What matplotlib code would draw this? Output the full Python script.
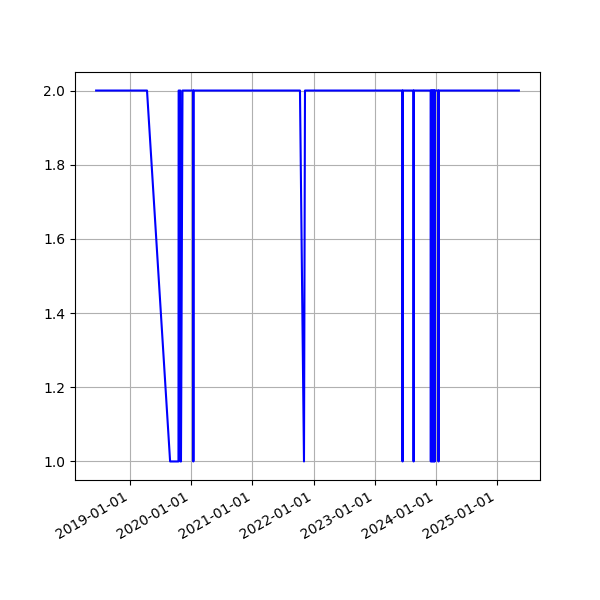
import matplotlib
matplotlib.use("Agg")
import matplotlib.pyplot as plt
import matplotlib.dates as mdates
import pandas as pd

# dates and values
dates = [
    "2018-06-12", "2019-04-12", "2019-08-28", "2019-10-17", "2019-10-18",
    "2019-10-28", "2019-10-29", "2019-11-01", "2019-11-10",
    "2020-01-13", "2020-01-14", "2020-01-15",
    "2021-10-12", "2021-11-05", "2021-11-11",
    "2023-06-16", "2023-06-17", "2023-06-18",
    "2023-08-21", "2023-08-22", "2023-08-23",
    "2023-12-02", "2023-12-03", "2023-12-04",
    "2023-12-08", "2023-12-09", "2023-12-10",
    "2023-12-14", "2023-12-15", "2023-12-16",
    "2023-12-20", "2023-12-21", "2023-12-22",
    "2023-12-25", "2023-12-26", "2023-12-27",
    "2024-01-17", "2024-01-18", "2024-01-19",
    "2025-05-12",
]
values = [
    2, 2, 1, 1, 2,
    2, 1, 1, 2,
    2, 1, 2,
    2, 1, 2,
    2, 1, 2,
    2, 1, 2,
    2, 1, 2,
    2, 1, 2,
    2, 1, 2,
    2, 1, 2,
    2, 1, 2,
    2, 1, 2,
    2,
]

x = pd.to_datetime(dates)

fig, ax = plt.subplots(figsize=(6, 6), dpi=100)
ax.plot(x, values, color="blue")
ax.grid(True)
ax.xaxis.set_major_locator(mdates.YearLocator())
ax.xaxis.set_major_formatter(mdates.DateFormatter("%Y-%m-%d"))
fig.autofmt_xdate()

plt.savefig("out.png")
